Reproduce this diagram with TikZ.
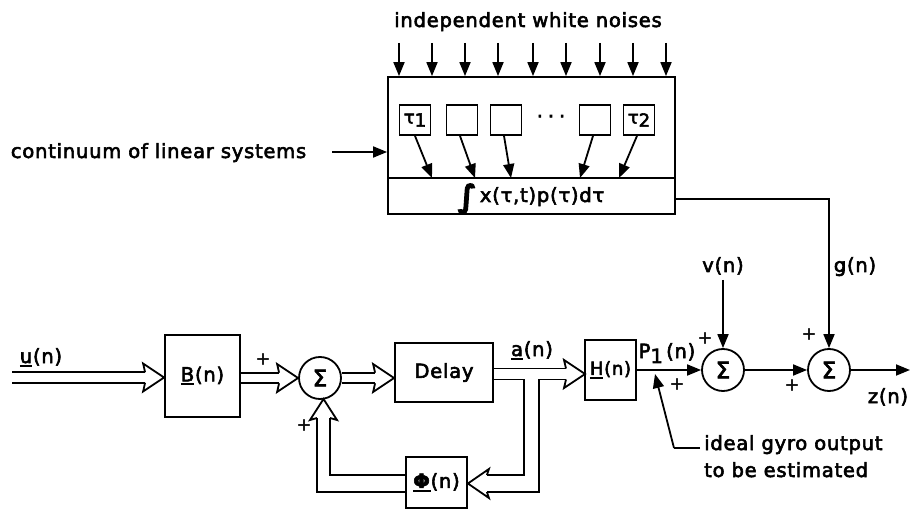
\documentclass[tikz,border=0pt]{standalone}
\usepackage{fontspec}
\setmainfont{DejaVu Sans}[LetterSpace=4, FakeBold=3]
\usetikzlibrary{calc,arrows.meta}
\newcommand\uln[1]{\setbox0\hbox{#1}\rlap{\rule[-4pt]{\wd0}{2pt}}#1}
\newcommand\dhead[4]{\draw[line join=miter, shift={(#1)}, rotate=#2] (-19,-#3) -- (-21,-#4) -- (0,0) -- (-21,#4) -- (-19,#3);}
\begin{document}
\begin{tikzpicture}[x=1pt,y=-1pt, line width=1.8pt, font=\fontsize{19.5}{22}\selectfont,
  box/.style={draw, rectangle, inner sep=0pt},
  sbox/.style={draw, rectangle, inner sep=0pt, minimum width=31pt, minimum height=30pt, font=\fontsize{18}{18}\selectfont},
  sumc/.style={draw, circle, minimum size=42pt, inner sep=0pt, font=\fontsize{23}{23}\selectfont},
  arr/.style={-{Triangle[length=14pt,width=11pt]}},
  dbl/.style={double, double distance=8.7pt, line width=1.8pt},
  plus/.style={font=\fontsize{17}{17}\selectfont, inner sep=0pt}]
\useasboundingbox (0,0) rectangle (915,510);

% ---------- top block ----------
\node[anchor=base] (title) at (528,27) {independent white noises};
\node[box, minimum width=287pt, minimum height=137pt] (sys) at (531.5,145.5) {};
\draw (sys.west |- 0,178) -- (sys.east |- 0,178);
\foreach \i/\x in {1/399,2/432,3/465,4/498,5/533,6/566,7/600,8/633,9/666}{
  \coordinate (n\i) at (\x,43);
  \draw[arr] (n\i) -- (n\i |- sys.north);
}
\node[sbox] (t1) at (415,120) {τ\raisebox{-3pt}{1}};
\node[sbox] (t2) at (462,120) {};
\node[sbox] (t3) at (506,120) {};
\node[sbox] (t4) at (595,120) {};
\node[sbox] (t5) at (639,120) {τ\raisebox{-3pt}{2}};
\node[anchor=base] (dots) at (551,123) {·\hspace{5pt}·\hspace{5pt}·};
\coordinate (i1) at (432,178);
\coordinate (i2) at (475,178);
\coordinate (i3) at (511,178);
\coordinate (i4) at (580,178);
\coordinate (i5) at (619,178);
\draw[arr] (t1.south) -- (i1);
\draw[arr] ($(t2.south)+(-2,0)$) -- (i2);
\draw[arr] ($(t3.south)+(-2,0)$) -- (i3);
\draw[arr] ($(t4.south)+(-2,0)$) -- (i4);
\draw[arr] ($(t5.south)+(-2,0)$) -- (i5);
\node[anchor=base] (int) at (531,202) {\raisebox{-5pt}{\fontsize{31}{31}\selectfont\bfseries ∫}\,x(τ,t)p(τ)dτ};

\node[anchor=base west, inner sep=0pt] (cont) at (10,158) {continuum of linear systems};
\coordinate (cs) at (332,152);
\draw[arr] (cs) -- (sys.west |- cs);

% ---------- bottom chain ----------
\node[box, minimum width=75pt, minimum height=82pt] (B) at (202.5,376) {\uln{B}(n)};
\node[sumc] (s1) at (320,378) {Σ};
\node[box, minimum width=98pt, minimum height=59pt] (D) at (444,372.5) {Delay};
\node[box, minimum width=51pt, minimum height=60pt, font=\fontsize{18}{18}\selectfont] (H) at (610.5,370) {\uln{H}(n)};
\node[box, minimum width=61pt, minimum height=51pt] (P) at (436.5,482.5) {\uln{\textbf{Φ}}(n)};
\node[sumc] (s2) at (723,370) {Σ};
\node[sumc] (s3) at (829,370) {Σ};

% labels
\node[anchor=base] (ulab) at (41,363) {\uln{u}(n)};
\node[anchor=base] (alab) at (532,356) {\uln{a}(n)};
\node[anchor=base] (plab) at (667,358) {P\raisebox{-5pt}{1}\,(n)};
\node[anchor=base] (vlab) at (723,272) {v(n)};
\node[anchor=base] (glab) at (855,272) {g(n)};
\node[anchor=base] (zlab) at (888,403) {z(n)};
\node[plus] (p1) at (263,359) {+};
\node[plus] (p2) at (304,425) {+};
\node[plus] (p3) at (705,338) {+};
\node[plus] (p4) at (677,384) {+};
\node[plus] (p5) at (809,334) {+};
\node[plus] (p6) at (792,385) {+};

% u -> B
\coordinate (uin) at (12,377.5);
\draw[dbl] (uin) -- ($(B.west |- uin)+(-19,0)$);
\dhead{B.west |- uin}{0}{5.25}{14}
% B -> s1
\draw[dbl] (B.east |- s1.west) -- ($(s1.west)+(-19,0)$);
\dhead{s1.west}{0}{5.25}{14}
% s1 -> D
\draw[dbl] (s1.east) -- ($(D.west |- s1.east)+(-19,0)$);
\dhead{D.west |- s1.east}{0}{5.25}{14}
% D -> H and split to Phi
\coordinate (ht) at (585,374);
\draw (D.east |- 0,368.5) -- ($(ht)+(-19,-5.5)$);
\draw (D.east |- 0,379.5) -- (524,379.5) -- (524,475) -- ($(P.east |- 0,483.5)+(19,-8.5)$);
\draw ($(ht)+(-19,5.5)$) -- (539,379.5) -- (539,492) -- ($(P.east |- 0,483.5)+(19,8.5)$);
\dhead{ht}{0}{5.5}{14}
\dhead{P.east |- 0,483.5}{180}{8.5}{14.5}
% Phi -> s1
\coordinate (ft) at (323.5,399);
\draw (P.west |- 0,475) -- (330,475) -- ($(ft)+(6.5,19)$);
\draw (P.west |- 0,492) -- (317,492) -- ($(ft)+(-6.5,19)$);
\dhead{ft}{90}{6.5}{13.5}

% single-line part
\draw[arr] (H.east) -- (s2.west);
\draw[arr] (s2.east) -- (s3.west);
\coordinate (zend) at (910,370);
\draw[arr] (s3.east) -- (zend);
\coordinate (vtop) at (723,280);
\draw[arr] (vtop) -- (s2.north);
\draw[arr] (sys.east |- int) -| (s3.north);

% annotation
\coordinate (tap) at (655,374);
\coordinate (elb) at (674,448);
\node[anchor=base west] (note1) at (700,450) {ideal gyro output};
\node[anchor=base west] (note2) at (700,477) {to be estimated};
\draw (note1.west |- elb) -- (elb);
\draw[arr] (elb) -- (tap);
\end{tikzpicture}
\end{document}
